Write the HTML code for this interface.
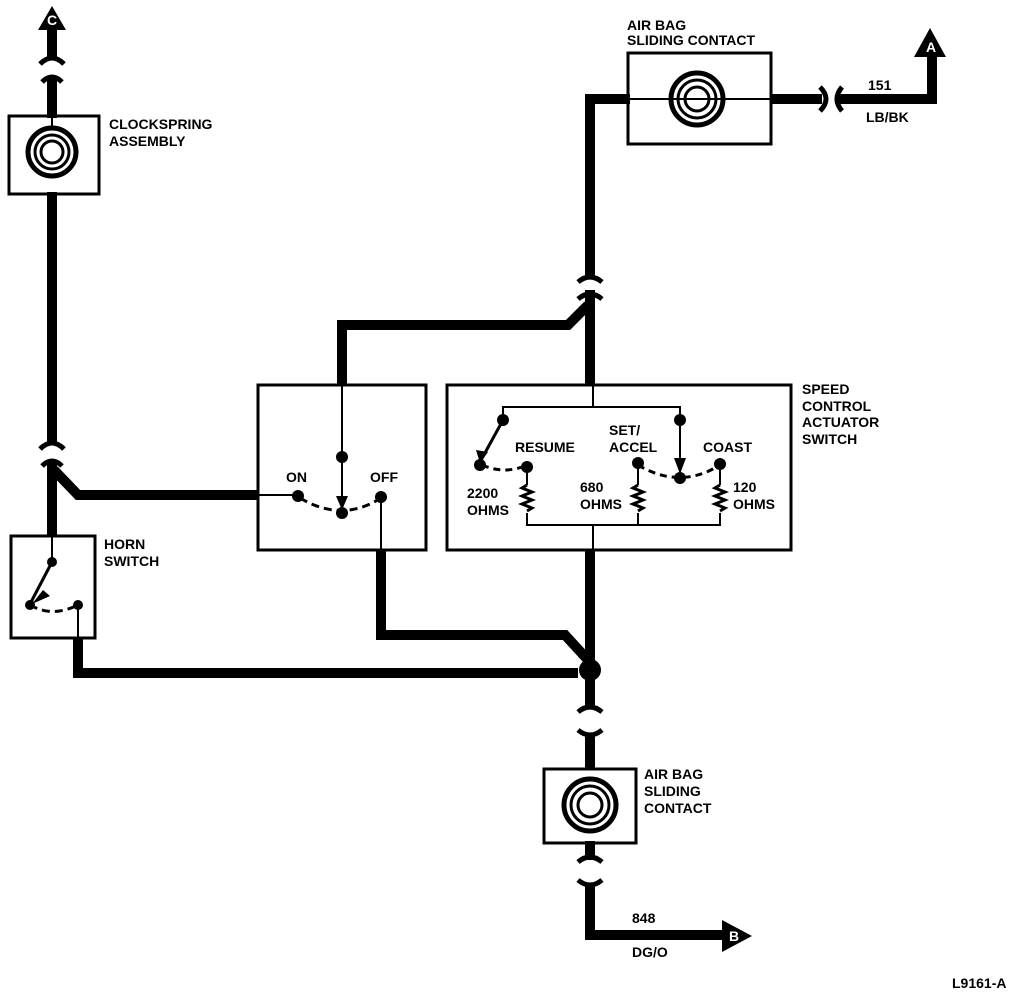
<!DOCTYPE html>
<html><head><style>
html,body{margin:0;padding:0;background:#fff}
svg{display:block}
text{font-family:"Liberation Sans",Arial,sans-serif;font-weight:bold;font-size:14px;fill:#000}
</style></head><body>
<svg width="1024" height="998" viewBox="0 0 1024 998" xmlns="http://www.w3.org/2000/svg">
<g fill="none" stroke="#000" stroke-linejoin="miter">
<line x1="52" y1="25" x2="52" y2="60" stroke-width="10"/>
<path d="M40,64 Q52,52 64,64" stroke-width="5"/>
<path d="M42,82 Q52,72 62,82" stroke-width="5"/>
<line x1="52" y1="76" x2="52" y2="118" stroke-width="10"/>
<rect x="9" y="116" width="90" height="78" stroke-width="3"/>
<circle cx="52" cy="152" r="24" stroke-width="5"/>
<circle cx="52" cy="152" r="17" stroke-width="3"/>
<circle cx="52" cy="152" r="11" stroke-width="3"/>
<line x1="52" y1="116" x2="52" y2="130" stroke-width="2"/>
<line x1="52" y1="192" x2="52" y2="445" stroke-width="10"/>
<path d="M40,449 Q52,437 64,449" stroke-width="5"/>
<path d="M42,466 Q52,456 62,466" stroke-width="5"/>
<line x1="52" y1="460" x2="52" y2="536" stroke-width="10"/>
<path d="M54,470 L78,495 L258,495" stroke-width="10"/>
<rect x="11" y="536" width="84" height="102" stroke-width="3"/>
<line x1="52" y1="536" x2="52" y2="562" stroke-width="2"/>
<line x1="52" y1="562" x2="30" y2="604" stroke-width="3"/>
<path d="M30,605 Q52,618 78,605" stroke-width="3" stroke-dasharray="8,5"/>
<line x1="78" y1="605" x2="78" y2="638" stroke-width="2"/>
<path d="M78,638 L78,673 L578,673" stroke-width="10"/>
<rect x="258" y="385" width="168" height="165" stroke-width="3"/>
<path d="M342,385 L342,325 L568,325 L588,305" stroke-width="10"/>
<line x1="342" y1="385" x2="342" y2="506" stroke-width="2"/>
<line x1="258" y1="495" x2="298" y2="495" stroke-width="2"/>
<path d="M300,498 Q342,523 381,498" stroke-width="3" stroke-dasharray="8,5"/>
<line x1="381" y1="498" x2="381" y2="550" stroke-width="2"/>
<path d="M381,550 L381,635 L565,635 L588,660" stroke-width="10"/>
<line x1="590" y1="290" x2="590" y2="385" stroke-width="10"/>
<path d="M578,282 Q590,272 602,282" stroke-width="5"/>
<path d="M578,299 Q590,289 602,299" stroke-width="5"/>
<path d="M590,275 L590,99 L630,99" stroke-width="10"/>
<rect x="628" y="53" width="143" height="91" stroke-width="3"/>
<line x1="630" y1="99" x2="771" y2="99" stroke-width="2"/>
<circle cx="697" cy="99" r="26" stroke-width="5"/>
<circle cx="697" cy="99" r="19" stroke-width="3"/>
<circle cx="697" cy="99" r="12" stroke-width="3"/>
<line x1="771" y1="99" x2="822" y2="99" stroke-width="10"/>
<path d="M820,87 Q832,99 820,111" stroke-width="5"/>
<path d="M842,87 Q832,99 842,111" stroke-width="5"/>
<path d="M838,99 L932,99 L932,55" stroke-width="10"/>
<rect x="447" y="385" width="344" height="165" stroke-width="3"/>
<path d="M593,385 L593,407 M503,420 L503,407 L680,407 L680,472" stroke-width="2"/>
<line x1="503" y1="420" x2="480" y2="462" stroke-width="3"/>
<path d="M482,465 Q505,475 527,465" stroke-width="3" stroke-dasharray="7,5"/>
<path d="M638,465 Q680,490 720,465" stroke-width="3" stroke-dasharray="7,5"/>
<path d="M527,465 L527,485 M527,513 L527,525 L720,525 L720,513 M720,485 L720,465 M638,465 L638,485 M638,513 L638,525 M593,525 L593,550" stroke-width="2"/>
<path d="M527,485 l-5,3 l10,4 l-10,4 l10,4 l-10,4 l10,4 l-5,3 M638,485 l-5,3 l10,4 l-10,4 l10,4 l-10,4 l10,4 l-5,3 M720,485 l-5,3 l10,4 l-10,4 l10,4 l-10,4 l10,4 l-5,3" stroke-width="3"/>
<line x1="590" y1="550" x2="590" y2="705" stroke-width="10"/>
<path d="M578,712 Q590,702 602,712" stroke-width="5"/>
<path d="M578,730 Q590,740 602,730" stroke-width="5"/>
<line x1="590" y1="735" x2="590" y2="770" stroke-width="10"/>
<rect x="544" y="769" width="92" height="74" stroke-width="3"/>
<circle cx="590" cy="805" r="26" stroke-width="5"/>
<circle cx="590" cy="805" r="19" stroke-width="3"/>
<circle cx="590" cy="805" r="12" stroke-width="3"/>
<line x1="590" y1="841" x2="590" y2="860" stroke-width="10"/>
<path d="M578,862 Q590,852 602,862" stroke-width="5"/>
<path d="M578,880 Q590,890 602,880" stroke-width="5"/>
<path d="M590,884 L590,935 L725,935" stroke-width="10"/>
</g>
<g fill="#000">
<polygon points="38,30 52,6 66,30"/>
<polygon points="914,57 930,28 946,57"/>
<polygon points="722,920 752,936 722,952"/>
<circle cx="590" cy="670" r="11"/>
<circle cx="52" cy="562" r="5"/><circle cx="30" cy="605" r="5"/><circle cx="78" cy="605" r="5"/>
<circle cx="298" cy="496" r="6"/><circle cx="381" cy="497" r="6"/><circle cx="342" cy="457" r="6"/><circle cx="342" cy="513" r="6"/>
<polygon points="336,496 348,496 342,510"/>
<circle cx="503" cy="420" r="6"/><circle cx="480" cy="465" r="6"/><circle cx="527" cy="467" r="6"/>
<circle cx="638" cy="463" r="6"/><circle cx="680" cy="420" r="6"/><circle cx="680" cy="478" r="6"/><circle cx="720" cy="464" r="6"/>
<polygon points="674,458 686,458 680,474"/>
<polygon points="43,590 32,604 50,596"/>
<polygon points="476,450 480,463 488,452"/>
</g>
<g>
<text x="47" y="25" font-size="11" style="fill:#fff">C</text>
<text x="926" y="52" font-size="11" style="fill:#fff">A</text>
<text x="729" y="941" font-size="11" style="fill:#fff">B</text>
<text x="109" y="129">CLOCKSPRING</text>
<text x="109" y="146">ASSEMBLY</text>
<text x="627" y="30">AIR BAG</text>
<text x="627" y="45">SLIDING CONTACT</text>
<text x="868" y="90" font-weight="normal">151</text>
<text x="866" y="122" font-weight="normal">LB/BK</text>
<text x="104" y="549">HORN</text>
<text x="104" y="566">SWITCH</text>
<text x="286" y="482" font-weight="normal">ON</text>
<text x="370" y="482" font-weight="normal">OFF</text>
<text x="802" y="394">SPEED</text>
<text x="802" y="411">CONTROL</text>
<text x="802" y="427">ACTUATOR</text>
<text x="802" y="444">SWITCH</text>
<text x="515" y="452" font-weight="normal">RESUME</text>
<text x="609" y="435" font-weight="normal">SET/</text>
<text x="609" y="452" font-weight="normal">ACCEL</text>
<text x="703" y="452" font-weight="normal">COAST</text>
<text x="467" y="498" font-weight="normal">2200</text>
<text x="467" y="515" font-weight="normal">OHMS</text>
<text x="580" y="492" font-weight="normal">680</text>
<text x="580" y="509" font-weight="normal">OHMS</text>
<text x="733" y="492" font-weight="normal">120</text>
<text x="733" y="509" font-weight="normal">OHMS</text>
<text x="644" y="779">AIR BAG</text>
<text x="644" y="796">SLIDING</text>
<text x="644" y="813">CONTACT</text>
<text x="632" y="923" font-weight="normal">848</text>
<text x="632" y="957" font-weight="normal">DG/O</text>
<text x="952" y="988" font-size="13">L9161-A</text>
</g>
</svg>
</body></html>
